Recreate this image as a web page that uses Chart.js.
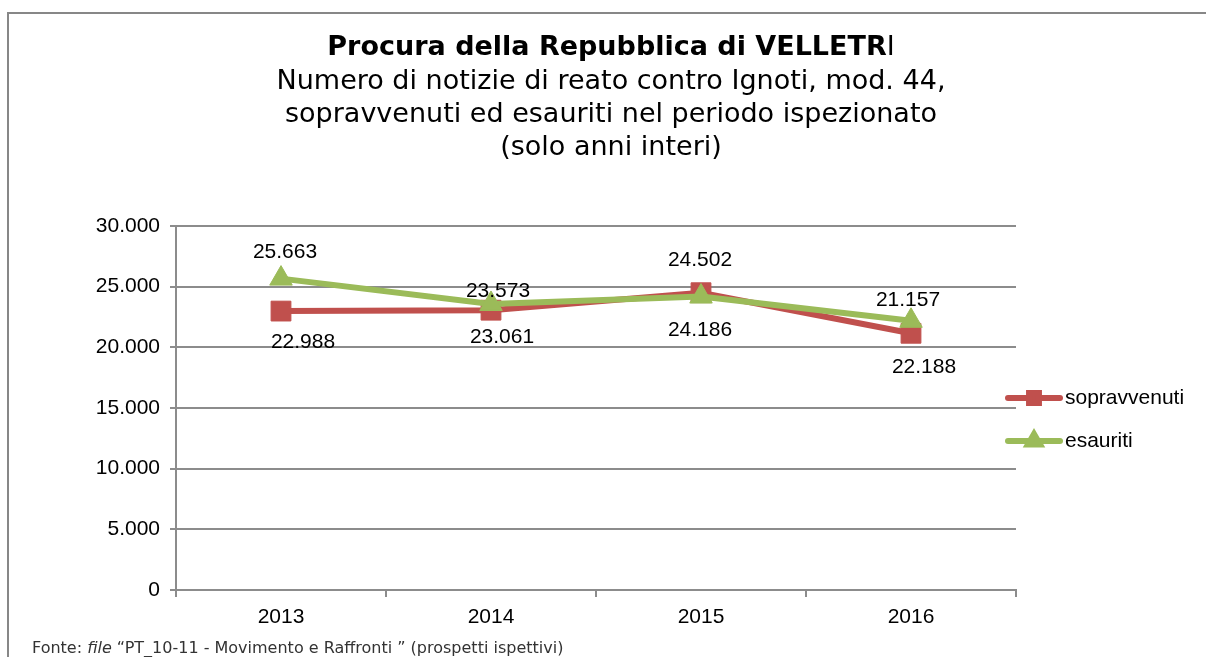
<!DOCTYPE html>
<html><head><meta charset="utf-8">
<script src="https://cdn.jsdelivr.net/npm/chart.js@4.4.1/dist/chart.umd.min.js"></script>
<style>html,body{margin:0;padding:0;background:#fff;}canvas{display:block;}</style>
</head><body>
<canvas id="c" width="1206" height="657"></canvas>
<script>
// ---- data ----
const categories = ['2013', '2014', '2015', '2016'];
const sopravvenuti = [22988, 23061, 24502, 21157];
const esauriti = [25663, 23573, 24186, 22188];
const yTicks = [0, 5000, 10000, 15000, 20000, 25000, 30000];
const seriesNames = ['sopravvenuti', 'esauriti'];
const titleBold = 'Procura della Repubblica di VELLETR';
const titleTail = 'I';
const subtitleLines = [
  'Numero di notizie di reato contro Ignoti, mod. 44,',
  'sopravvenuti ed esauriti nel periodo ispezionato',
  '(solo anni interi)'
];
const footerParts = ['Fonte: ', 'file', ' \u201cPT_10-11 - Movimento e Raffronti \u201d (prospetti ispettivi)'];

// ---- style ----
const RED = '#C0504D', GREEN = '#9BBB59', GRID = '#8c8c8c';
const SANS = '"Liberation Sans", Arial, sans-serif';
const TFONT = '"DejaVu Sans", Verdana, sans-serif';
// label offsets (px) relative to each point
const labelOffsets = {
  sopravvenuti: [[22, 31], [11, 27], [-1, -33], [-3, -33]],
  esauriti: [[4, -26], [7, -13], [-1, 34], [13, 46]]
};

const fmt = v => String(Math.round(v)).replace(/\B(?=(\d{3})+(?!\d))/g, '.');

const decor = {
  id: 'decor',
  beforeDraw(chart) {
    const ctx = chart.ctx;
    ctx.save();
    ctx.fillStyle = '#fff';
    ctx.fillRect(0, 0, chart.width, chart.height);
    ctx.strokeStyle = '#878787';
    ctx.lineWidth = 2;
    ctx.beginPath();
    ctx.moveTo(1206, 13); ctx.lineTo(8, 13); ctx.lineTo(8, 657);
    ctx.stroke();
    ctx.restore();
  },
  afterDraw(chart) {
    const ctx = chart.ctx;
    ctx.save();
    // title
    ctx.fillStyle = '#000';
    ctx.textBaseline = 'middle';
    ctx.textAlign = 'left';
    const cx = 611;
    ctx.font = 'bold 27px ' + TFONT;
    const wb = ctx.measureText(titleBold).width;
    ctx.font = '27px ' + TFONT;
    const wt = ctx.measureText(titleTail).width;
    let x0 = cx - (wb + wt) / 2;
    ctx.font = 'bold 27px ' + TFONT;
    ctx.fillText(titleBold, x0, 48);
    ctx.font = '27px ' + TFONT;
    ctx.fillText(titleTail, x0 + wb, 48);
    ctx.textAlign = 'center';
    subtitleLines.forEach((l, i) => ctx.fillText(l, cx, 81.5 + i * 33.2));

    // data labels
    ctx.font = '21px ' + SANS;
    ctx.textAlign = 'center';
    chart.data.datasets.forEach((ds, di) => {
      const meta = chart.getDatasetMeta(di);
      const offs = labelOffsets[ds.label];
      meta.data.forEach((pt, i) => {
        ctx.fillText(fmt(ds.data[i]), pt.x + offs[i][0], pt.y + offs[i][1]);
      });
    });

    // legend
    const legendItems = [
      {name: seriesNames[0], color: RED, style: 'rect', r: 7, y: 398},
      {name: seriesNames[1], color: GREEN, style: 'triangle', r: 7, y: 441}
    ];
    legendItems.forEach(it => {
      ctx.strokeStyle = it.color;
      ctx.lineWidth = 6;
      ctx.lineCap = 'round';
      ctx.beginPath();
      ctx.moveTo(1008, it.y); ctx.lineTo(1060, it.y);
      ctx.stroke();
      ctx.fillStyle = it.color;
      Chart.helpers.drawPoint(ctx, {pointStyle: it.style, radius: it.r, borderWidth: 1}, 1034, it.y);
      ctx.fillStyle = '#000';
      ctx.textAlign = 'left';
      ctx.font = '21px ' + SANS;
      ctx.fillText(it.name, 1065, it.y);
    });

    // footer
    ctx.fillStyle = '#333';
    ctx.textAlign = 'left';
    let fx = 32;
    const fonts = ['16px ' + TFONT, 'italic 16px ' + TFONT, '16px ' + TFONT];
    footerParts.forEach((p, i) => {
      ctx.font = fonts[i];
      ctx.fillText(p, fx, 649);
      fx += ctx.measureText(p).width;
    });
    ctx.restore();
  }
};

new Chart(document.getElementById('c'), {
  type: 'line',
  data: {
    labels: categories,
    datasets: [
      {label: seriesNames[0], data: sopravvenuti, borderColor: RED, backgroundColor: RED,
       pointBackgroundColor: RED, pointBorderColor: RED, borderWidth: 6, pointStyle: 'rect',
       pointRadius: 14, pointBorderWidth: 1, tension: 0, order: 1},
      {label: seriesNames[1], data: esauriti, borderColor: GREEN, backgroundColor: GREEN,
       pointBackgroundColor: GREEN, pointBorderColor: GREEN, borderWidth: 6, pointStyle: 'triangle',
       pointRadius: 13, pointBorderWidth: 1, tension: 0, order: 0}
    ]
  },
  options: {
    responsive: false,
    animation: false,
    devicePixelRatio: 1,
    layout: {padding: {top: 226, left: 14, right: 190, bottom: 0}},
    plugins: {legend: {display: false}, title: {display: false}, tooltip: {enabled: false}},
    scales: {
      x: {
        type: 'category',
        offset: true,
        grid: {offset: true, drawOnChartArea: false, drawTicks: true, tickLength: 7, color: GRID, lineWidth: 2},
        border: {color: GRID, width: 2},
        ticks: {color: '#000', font: {family: SANS, size: 21}, padding: 8, maxRotation: 0},
        afterFit: s => { s.height = 67; }
      },
      y: {
        min: 0, max: 30000,
        afterBuildTicks: s => { s.ticks = yTicks.map(v => ({value: v})); },
        grid: {color: GRID, lineWidth: 2, drawTicks: true, tickLength: 6},
        border: {color: GRID, width: 2},
        ticks: {color: '#000', font: {family: SANS, size: 21}, padding: 10, callback: v => fmt(v)},
        afterFit: s => { s.width = 162; }
      }
    }
  },
  plugins: [decor]
});
</script>
</body></html>
